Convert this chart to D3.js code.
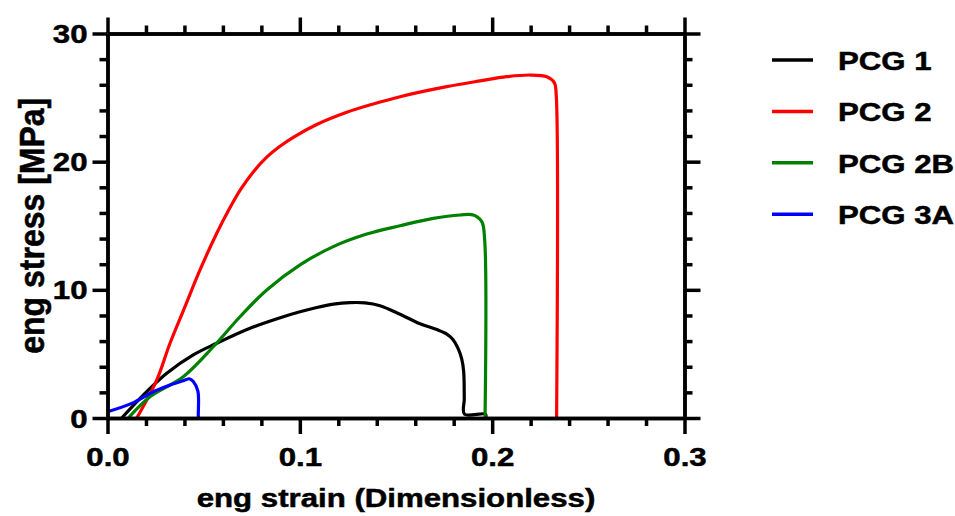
<!DOCTYPE html>
<html>
<head>
<meta charset="utf-8">
<script src="https://cdn.jsdelivr.net/npm/d3@7"></script>
<style>
    body { margin: 0; background: #ffffff; }
    text { font-family: "Liberation Sans", Arial, sans-serif; font-weight: bold; fill: #000; stroke: #000; stroke-width: 0.5px; }
</style>
</head>
<body>
<div id="chart"></div>
<script>
"use strict";

// series names and colours
const seriesNames = [ "PCG 1", "PCG 2", "PCG 2B", "PCG 3A" ];
const seriesColors = [ "#000000", "#ff0000", "#008000", "#0000ff" ];

// [strain, stress MPa]
const pcg1 = [
    [0.0074, 0], [0.0186, 1.79], [0.0308, 3.49], [0.0446, 4.92], [0.0568, 5.83], [0.0741, 7.0],
    [0.0914, 7.9], [0.1001, 8.29], [0.1088, 8.62], [0.1175, 8.88], [0.1261, 9.0], [0.134, 8.98],
    [0.1417, 8.76], [0.1521, 8.1], [0.1625, 7.35], [0.1712, 6.9], [0.1764, 6.55], [0.1795, 6.15],
    [0.1822, 5.45], [0.1842, 4.6], [0.1852, 3.6], [0.1855, 1.5], [0.1856, 0.3], [0.1965, 0.3], [0.1967, 0]
];
const pcg2 = [
    [0.0152, 0], [0.0256, 2.96], [0.0325, 5.83], [0.0403, 8.69], [0.0481, 11.55], [0.0568, 14.41],
    [0.0633, 16.3], [0.0693, 17.85], [0.0758, 19.2], [0.0828, 20.35], [0.0897, 21.2], [0.0966, 21.9],
    [0.1088, 22.9], [0.1244, 23.85], [0.1382, 24.5], [0.1521, 25.07], [0.1764, 25.85], [0.1937, 26.3],
    [0.2076, 26.63], [0.2197, 26.76], [0.2284, 26.63], [0.2324, 26.15], [0.2333, 25.2], [0.2335, 0]
];
const pcg2b = [
    [0.0108, 0], [0.0221, 1.66], [0.0394, 3.22], [0.055, 5.56], [0.0689, 7.9], [0.0828, 9.99],
    [0.1001, 11.95], [0.1174, 13.37], [0.1348, 14.35], [0.1521, 15.0], [0.1694, 15.58], [0.1833, 15.84],
    [0.1902, 15.84], [0.1946, 15.32], [0.1961, 13.89], [0.1963, 0]
];
const pcg3a = [
    [0, 0.49], [0.0126, 1.14], [0.0238, 2.05], [0.0325, 2.57], [0.0403, 2.96], [0.0425, 3.06],
    [0.0446, 2.85], [0.047, 2.1], [0.0472, 0.2], [0.0473, 0]
];
const seriesData = [ pcg1, pcg2, pcg2b, pcg3a ];

// tick values
const xMajorTicks = [ 0, 0.1, 0.2, 0.3 ];
const xMinorTicks = [ 0.02, 0.04, 0.06, 0.08, 0.12, 0.14, 0.16, 0.18, 0.22, 0.24, 0.26, 0.28 ];
const yMajorTicks = [ 0, 10, 20, 30 ];
const yMinorTicks = [ 2, 4, 6, 8, 12, 14, 16, 18, 22, 24, 26, 28 ];

const width = 955, height = 516;
const plotLeft = 107.5, plotRight = 684.5, plotTop = 33.5, plotBottom = 418;
const stretch = 1.2;   // text in the source is widened horizontally
const fontSize = 26;
const axisWidth = 3.5;

const svg = d3.select( "#chart" )
    .append( "svg" )
    .attr( "width", width )
    .attr( "height", height );

const x = d3.scaleLinear().domain( [ 0, 0.3 ] ).range( [ plotLeft, plotRight ] );
const y = d3.scaleLinear().domain( [ 0, 30 ] ).range( [ plotBottom, plotTop ] );

// curves
const line = d3.line()
    .curve( d3.curveCatmullRom.alpha( 0.5 ) )
    .x( d => x( d[0] ) )
    .y( d => y( d[1] ) );

seriesData.forEach( ( data, i ) => {
    svg.append( "path" )
        .datum( data )
        .attr( "fill", "none" )
        .attr( "stroke", seriesColors[ i ] )
        .attr( "stroke-width", 3.2 )
        .attr( "stroke-linejoin", "round" )
        .attr( "d", line );
});

function styleAxis( g ) {
    g.selectAll( "path, line" )
        .attr( "stroke", "#000" )
        .attr( "stroke-width", axisWidth );
    g.selectAll( "text" ).remove();
}

// minor ticks
svg.append( "g" ).attr( "transform", "translate(0," + plotBottom + ")" )
    .call( d3.axisBottom( x ).tickValues( xMinorTicks ).tickSize( 8 ).tickSizeOuter( 0 ).tickFormat( "" ) )
    .call( styleAxis );
svg.append( "g" ).attr( "transform", "translate(0," + plotTop + ")" )
    .call( d3.axisTop( x ).tickValues( xMinorTicks ).tickSize( 8 ).tickSizeOuter( 0 ).tickFormat( "" ) )
    .call( styleAxis );
svg.append( "g" ).attr( "transform", "translate(" + plotLeft + ",0)" )
    .call( d3.axisLeft( y ).tickValues( yMinorTicks ).tickSize( 8 ).tickSizeOuter( 0 ).tickFormat( "" ) )
    .call( styleAxis );
svg.append( "g" ).attr( "transform", "translate(" + plotRight + ",0)" )
    .call( d3.axisRight( y ).tickValues( yMinorTicks ).tickSize( 8 ).tickSizeOuter( 0 ).tickFormat( "" ) )
    .call( styleAxis );

// major ticks, top and right without labels
svg.append( "g" ).attr( "transform", "translate(0," + plotTop + ")" )
    .call( d3.axisTop( x ).tickValues( xMajorTicks ).tickSize( 16 ).tickSizeOuter( 0 ).tickFormat( "" ) )
    .call( styleAxis );
svg.append( "g" ).attr( "transform", "translate(" + plotRight + ",0)" )
    .call( d3.axisRight( y ).tickValues( yMajorTicks ).tickSize( 16 ).tickSizeOuter( 0 ).tickFormat( "" ) )
    .call( styleAxis );

// bottom axis with labels
const xAxis = svg.append( "g" ).attr( "transform", "translate(0," + plotBottom + ")" )
    .call( d3.axisBottom( x ).tickValues( xMajorTicks ).tickSize( 16 ).tickSizeOuter( 0 ).tickFormat( d3.format( ".1f" ) ) );
xAxis.selectAll( "path, line" ).attr( "stroke", "#000" ).attr( "stroke-width", axisWidth );
xAxis.selectAll( "text" )
    .attr( "font-size", fontSize )
    .attr( "y", 0 )
    .attr( "dy", "0.71em" )
    .attr( "transform", "translate(0,29.5) scale(" + stretch + ",1)" );
xAxis.attr( "font-family", null ).attr( "font-size", null );

// left axis with labels
const yAxis = svg.append( "g" ).attr( "transform", "translate(" + plotLeft + ",0)" )
    .call( d3.axisLeft( y ).tickValues( yMajorTicks ).tickSize( 15 ).tickSizeOuter( 0 ).tickFormat( d3.format( "d" ) ) );
yAxis.selectAll( "path, line" ).attr( "stroke", "#000" ).attr( "stroke-width", axisWidth );
yAxis.selectAll( "text" )
    .attr( "font-size", fontSize )
    .attr( "x", 0 )
    .attr( "dy", "0.35em" )
    .attr( "transform", "translate(-20,0) scale(" + stretch + ",1)" );
yAxis.attr( "font-family", null ).attr( "font-size", null );

// axis titles
svg.append( "text" )
    .attr( "transform", "translate(" + ( ( plotLeft + plotRight ) / 2 ) + ",507) scale(" + stretch + ",1)" )
    .attr( "text-anchor", "middle" )
    .attr( "font-size", fontSize )
    .text( "eng strain (Dimensionless)" );

svg.append( "text" )
    .attr( "transform", "translate(44," + ( ( plotTop + plotBottom ) / 2 ) + ") scale(1.12,1) rotate(-90)" )
    .attr( "text-anchor", "middle" )
    .attr( "font-size", 32 )
    .text( "eng stress [MPa]" );

// legend
const legend = svg.append( "g" ).attr( "class", "legend" );
seriesNames.forEach( ( name, i ) => {
    const ly = 60 + i * 51.4;
    legend.append( "line" )
        .attr( "x1", 772 ).attr( "x2", 813 )
        .attr( "y1", ly ).attr( "y2", ly )
        .attr( "stroke", seriesColors[ i ] )
        .attr( "stroke-width", 3.5 );
    legend.append( "text" )
        .attr( "transform", "translate(838," + ( ly + 10 ) + ") scale(" + stretch + ",1)" )
        .attr( "font-size", fontSize )
        .text( name );
});
</script>
</body>
</html>
